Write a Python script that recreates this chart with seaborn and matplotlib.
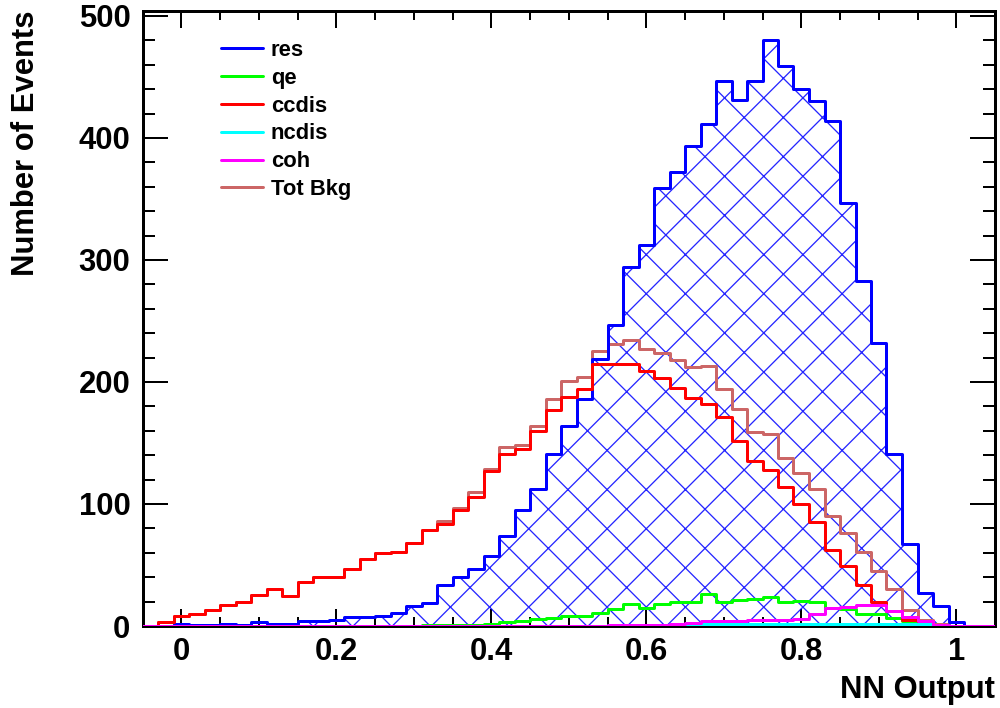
import numpy as np
import matplotlib
matplotlib.use("Agg")
import matplotlib.pyplot as plt
import seaborn as sns
from matplotlib.ticker import MultipleLocator, FuncFormatter
from matplotlib.lines import Line2D

# ---- data: 55 bins of width 0.02 from -0.05 to 1.05 ----
bin_start = -0.05
bin_width = 0.02
n_bins = 55

res = [0, 0, 2, 1, 1, 2, 1, 3, 2, 2,
       4, 4, 5, 7, 7, 8, 11, 16, 19, 34,
       40, 47, 57, 74, 95, 112, 141, 164, 186, 219,
       247, 294, 312, 359, 372, 393, 411, 447, 431, 447,
       480, 459, 440, 430, 414, 347, 283, 232, 141, 67,
       27, 16, 3, 0, 0]

qe = [0, 0, 0, 0, 0, 0, 0, 0, 0, 0,
      0, 0, 0, 0, 0, 0, 0, 0, 0.5, 0.5,
      1, 1, 2, 3.5, 4, 5.5, 6.5, 8, 8.5, 11,
      14, 18, 15, 18, 19.5, 20, 26, 20, 21.5, 22,
      23.5, 20, 20.5, 20, 15, 14, 10, 10, 6.5, 4.5,
      2, 1, 0, 0, 0]

ccdis = [0, 3, 8, 10, 13, 17, 20, 25.5, 30, 24.5,
         36, 40, 40.5, 47, 55, 60, 61, 68, 78.5, 84,
         95, 106, 127, 141, 145, 160, 177, 188, 194, 215,
         215, 215, 209, 203, 195, 187, 182, 171, 152, 135,
         128, 114, 100, 85, 62, 49, 34, 20, 12, 5,
         3.5, 1, 0, 0, 0]

ncdis = [0, 0, 0, 0, 0, 0, 0, 0, 0, 0,
         0, 0, 0, 0, 0, 0, 0, 0, 0, 0,
         0, 0, 0, 0, 0, 0, 0, 0, 0, 0,
         0.5, 1, 0.5, 0.5, 1, 1.5, 1.5, 1.5, 1.5, 1.5,
         1.5, 1.5, 1.5, 1.5, 1.5, 1.5, 1.5, 1.5, 1.5, 1.5,
         1.5, 0.5, 0, 0, 0]

coh = [0, 0, 0, 0, 0, 0, 0, 0, 0, 0,
       0, 0, 0, 0, 0, 0, 0, 0, 0, 0,
       0, 0, 0, 0, 0, 0, 0, 0, 0, 0,
       0.5, 1, 1, 1, 2, 2.5, 4, 4, 4, 5,
       5, 5, 6, 10, 14.5, 15.5, 17, 17, 12, 7,
       4.5, 1, 0, 0, 0]

tot_bkg = [0, 3, 8, 10, 13, 17, 20, 25.5, 30, 24.5,
           36, 40, 40.5, 47, 55, 60, 61, 68, 79, 86,
           97, 110, 129, 147, 148, 164, 186, 201, 204, 225,
           231, 234, 227, 224, 218, 212, 213, 194, 178, 159,
           157, 138, 125, 112, 90, 76, 61, 45, 30, 13,
           5, 2, 0, 0, 0]

labels = ["res", "qe", "ccdis", "ncdis", "coh", "Tot Bkg"]
colors = ["#0000ff", "#00ff00", "#ff0000", "#00ffff", "#ff00ff", "#cc6666"]

# ---- figure setup (dpi chosen so the cross-hatch spacing matches) ----
DPI = 235
PX = 72.0 / DPI  # points per pixel

sns.set_style("ticks")
plt.rcParams["font.family"] = ["Liberation Sans", "DejaVu Sans"]
plt.rcParams["font.weight"] = "bold"
plt.rcParams["axes.labelweight"] = "bold"
plt.rcParams["axes.linewidth"] = 3 * PX
plt.rcParams["axes.edgecolor"] = "black"
plt.rcParams["axes.labelcolor"] = "black"
plt.rcParams["text.color"] = "black"
plt.rcParams["xtick.color"] = "black"
plt.rcParams["ytick.color"] = "black"
plt.rcParams["hatch.linewidth"] = 1.3 * PX
plt.rcParams["hatch.color"] = "#0000ff"

fig = plt.figure(figsize=(1000 / DPI, 708 / DPI), dpi=DPI)
ax = fig.add_axes([0.1425, 1 - 626 / 708, (995 - 142.5) / 1000, (626 - 11) / 708])

edges = [bin_start + bin_width * i for i in range(n_bins + 1)]
centers = [e + bin_width / 2 for e in edges[:-1]]
LW = 3 * PX

# res hatch fill
sns.histplot(x=centers, weights=res, bins=edges, element="step", fill=True,
             color=colors[0], facecolor="none", edgecolor=(0, 0, 1, 0.85),
             hatch="xx", linewidth=0, ax=ax, zorder=1.5)
# Tot Bkg
sns.histplot(x=centers, weights=tot_bkg, bins=edges, element="step", fill=False,
             color=colors[5], linewidth=LW, ax=ax, zorder=2)
# res outline
sns.histplot(x=centers, weights=res, bins=edges, element="step", fill=False,
             color=colors[0], linewidth=LW, ax=ax, zorder=2.5)
sns.histplot(x=centers, weights=qe, bins=edges, element="step", fill=False,
             color=colors[1], linewidth=LW, ax=ax, zorder=3)
sns.histplot(x=centers, weights=ccdis, bins=edges, element="step", fill=False,
             color=colors[2], linewidth=LW, ax=ax, zorder=3.5)
sns.histplot(x=centers, weights=ncdis, bins=edges, element="step", fill=False,
             color=colors[3], linewidth=LW, ax=ax, zorder=4)
sns.histplot(x=centers, weights=coh, bins=edges, element="step", fill=False,
             color=colors[4], linewidth=LW, ax=ax, zorder=4.5)

ax.set_xlim(-0.05, 1.05)
ax.set_ylim(0, 504)

ax.xaxis.set_major_locator(MultipleLocator(0.2))
ax.xaxis.set_minor_locator(MultipleLocator(0.05))
ax.yaxis.set_major_locator(MultipleLocator(100))
ax.yaxis.set_minor_locator(MultipleLocator(20))
ax.xaxis.set_major_formatter(FuncFormatter(lambda v, p: f"{v:g}" if abs(v) > 1e-9 else "0"))

FS = 31 * PX
ax.tick_params(axis="x", which="major", direction="in", top=True, length=17 * PX,
               width=2 * PX, labelsize=FS, pad=11 * PX)
ax.tick_params(axis="x", which="minor", direction="in", top=True, length=9 * PX,
               width=2 * PX)
ax.tick_params(axis="y", which="major", direction="in", right=True, length=25 * PX,
               width=2 * PX, labelsize=FS, pad=12 * PX)
ax.tick_params(axis="y", which="minor", direction="in", right=True, length=12 * PX,
               width=2 * PX)
for lab in ax.get_xticklabels() + ax.get_yticklabels():
    lab.set_fontweight("bold")

ax.set_xlabel("NN Output", fontsize=FS, fontweight="bold", loc="right")
ax.xaxis.set_label_coords(1.0, -(675 - 626) / 615)
ax.set_ylabel("Number of Events", fontsize=FS, fontweight="bold", loc="top")
ax.yaxis.set_label_coords(-(142.5 - 41) / 852.5, 1.0)

handles = [Line2D([], [], color=c, linewidth=LW) for c in colors]
LFS = 22
leg = ax.legend(handles, labels, loc="upper left", frameon=False,
                bbox_to_anchor=(0.2207, 1 - 40 / 708), bbox_transform=fig.transFigure,
                borderaxespad=0, borderpad=0, fontsize=LFS * PX,
                handlelength=42 / LFS, handletextpad=8 / LFS, labelspacing=0.31)
for t in leg.get_texts():
    t.set_fontweight("bold")

fig.savefig("out.png", dpi=DPI)
